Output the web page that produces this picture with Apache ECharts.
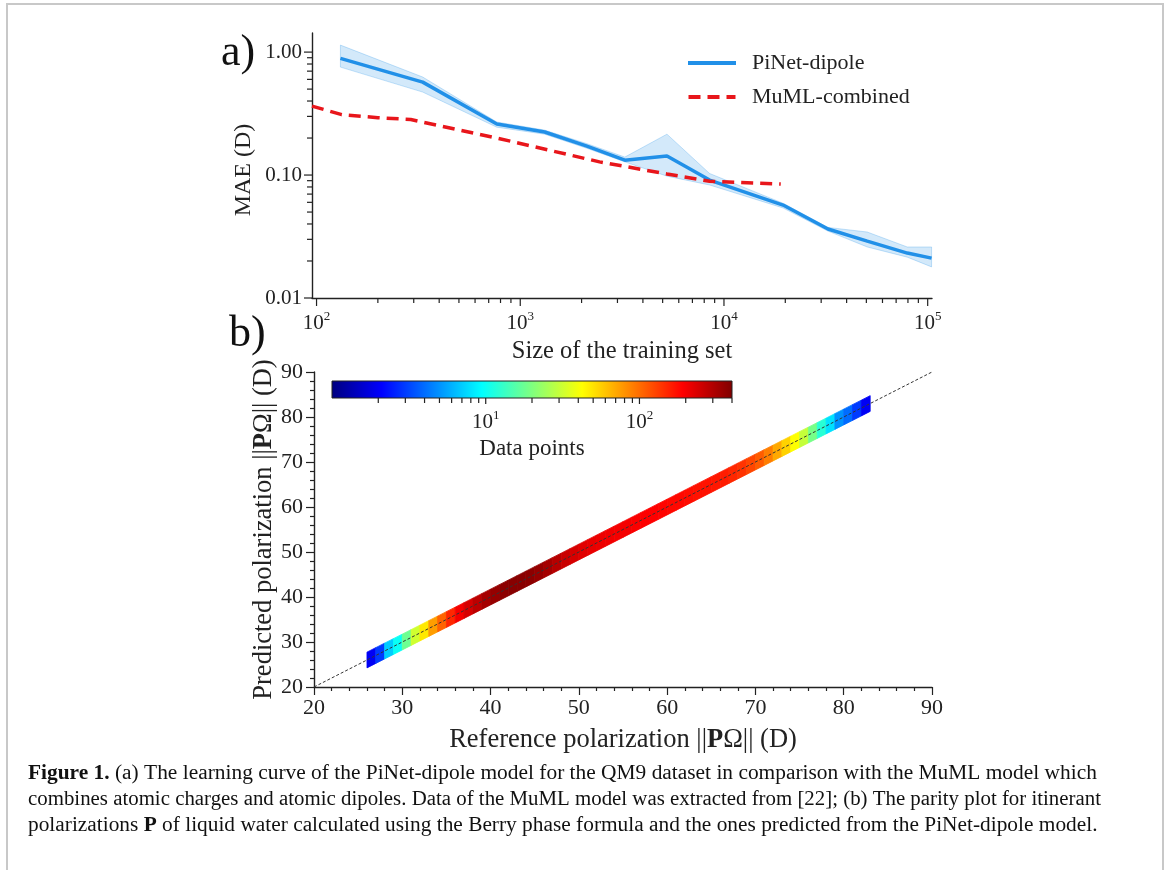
<!DOCTYPE html>
<html><head><meta charset="utf-8">
<script src="https://cdn.jsdelivr.net/npm/echarts@6/dist/echarts.min.js"></script>
<style>html,body{margin:0;padding:0;background:#fff}#c{width:1167px;height:870px}</style>
</head><body><div id="c"></div>
<script>
// ---------------- data ----------------
// (a) learning curve
const trainSizes = [131, 332, 767, 1318, 2124, 3260, 5250, 8500, 19500, 32400, 50500, 79400, 104500];
const pinetMAE   = [0.89, 0.57, 0.26, 0.224, 0.172, 0.132, 0.143, 0.091, 0.057, 0.0364, 0.029, 0.0232, 0.0211];
const pinetLow   = [0.755, 0.473, 0.245, 0.215, 0.165, 0.128, 0.098, 0.083, 0.054, 0.035, 0.026, 0.0215, 0.0179];
const pinetHigh  = [1.14, 0.627, 0.27, 0.232, 0.18, 0.14, 0.215, 0.103, 0.059, 0.0375, 0.0344, 0.026, 0.026];
const mumlSizes  = [95, 133, 200, 290, 767, 1440, 2450, 5250, 8500, 19000];
const mumlMAE    = [0.364, 0.31, 0.293, 0.283, 0.2, 0.157, 0.128, 0.102, 0.089, 0.0845];
const topXMajor = [100, 1000, 10000, 100000];
const topXLabels = ['{n|10}{s|2}', '{n|10}{s|3}', '{n|10}{s|4}', '{n|10}{s|5}'];
const topYMajor = [0.01, 0.1, 1];
const topYLabels = ['0.01', '0.10', '1.00'];
// (b) parity plot: bins along the reference polarization (D), counts per bin
const parityBinCenters = [26.5,27.5,28.5,29.5,30.5,31.5,32.5,33.5,34.5,35.5,36.5,37.5,38.5,39.5,40.5,41.5,42.5,43.5,44.5,45.5,46.5,47.5,48.5,49.5,50.5,51.5,52.5,53.5,54.5,55.5,56.5,57.5,58.5,59.5,60.5,61.5,62.5,63.5,64.5,65.5,66.5,67.5,68.5,69.5,70.5,71.5,72.5,73.5,74.5,75.5,76.5,77.5,78.5,79.5,80.5,81.5,82.5];
const parityCounts = [2,3,7,10,18,32,48,75,105,150,200,240,280,320,350,370,380,380,370,350,320,290,260,240,225,215,210,205,200,200,195,190,190,185,180,180,175,170,170,165,160,150,140,125,110,90,70,55,42,30,19,12,8,5,4,3,2];
const identityLine = [[20, 20], [90, 90]];
const cbarRange = [1, 400];
const cbarMajor = [10, 100];
const cbarLabels = ['{n|10}{s|1}', '{n|10}{s|2}'];

// ---------------- style constants ----------------
const SERIF = 'Liberation Serif';
const INK = '#222';
const BLUE = '#2190e8';
const RED = '#e8161b';
const JET = ['#00007f','#0000ff','#007fff','#00ffff','#7fff7f','#ffff00','#ff7f00','#ff0000','#7f0000'];
const BAND_HALF = 1.75;   // half-thickness of the parity band (D)
const BIN_HALF = 0.5;

function minorLog(min, max) {
  const out = [];
  for (let e = Math.floor(Math.log10(min)); e <= Math.ceil(Math.log10(max)); e++) {
    for (let k = 2; k <= 9; k++) {
      const v = k * Math.pow(10, e);
      if (v > min * 1.0001 && v <= max * 1.0001) out.push(v);
    }
  }
  return out;
}
const X0 = [95, 105000], Y0 = [0.01, 1.43];

// tick items: [x, y, axis(0=x,1=y), major, labelIdx]
const topTicks = [];
topXMajor.forEach((v, i) => topTicks.push([v, Y0[0], 0, 1, i]));
minorLog(X0[0], X0[1]).forEach(v => topTicks.push([v, Y0[0], 0, 0, -1]));
topYMajor.forEach((v, i) => topTicks.push([X0[0], v, 1, 1, i]));
minorLog(Y0[0], Y0[1]).forEach(v => topTicks.push([X0[0], v, 1, 0, -1]));
const cbarTicks = [];
cbarMajor.forEach((v, i) => cbarTicks.push([v, 0, 0, 1, i]));
minorLog(cbarRange[0], cbarRange[1]).forEach(v => cbarTicks.push([v, 0, 0, 0, -1]));

const supRich = {
  n: { fontSize: 21, fontFamily: SERIF, color: INK, verticalAlign: 'bottom' },
  s: { fontSize: 13, fontFamily: SERIF, color: INK, verticalAlign: 'bottom', padding: [0, 0, 11, 0] }
};

function tickRenderer(xLabels, yLabels, o) {
  return function (params, api) {
    const p = api.coord([api.value(0), api.value(1)]);
    const ax = api.value(2), maj = api.value(3), li = api.value(4);
    const len = maj ? o.major : o.minor;
    const ch = [];
    if (ax === 0) {
      ch.push({ type: 'line', shape: { x1: p[0], y1: p[1], x2: p[0], y2: p[1] + len }, style: { stroke: INK, lineWidth: 1.2 } });
      if (maj && li >= 0) ch.push({ type: 'text', x: p[0], y: p[1] + o.xLabelGap, style: { text: xLabels[li], align: 'center', verticalAlign: 'top', rich: supRich, font: '21px ' + SERIF, fill: INK } });
    } else {
      ch.push({ type: 'line', shape: { x1: p[0], y1: p[1], x2: p[0] - len, y2: p[1] }, style: { stroke: INK, lineWidth: 1.2 } });
      if (maj && li >= 0) ch.push({ type: 'text', x: p[0] - o.yLabelGap, y: p[1], style: { text: yLabels[li], align: 'right', verticalAlign: 'middle', font: '21px ' + SERIF, fill: INK } });
    }
    return { type: 'group', children: ch };
  };
}

const bandData = parityBinCenters.map((c, i) => [c - BIN_HALF, c + BIN_HALF, parityCounts[i], Math.log10(parityCounts[i])]);

const chart = echarts.init(document.getElementById('c'), null, { renderer: 'canvas' });
const axisLine = { show: true, lineStyle: { color: INK, width: 1.4 } };
const captionFont = '20.5px ' + SERIF;
const option = {
  backgroundColor: '#fff',
  animation: false,
  grid: [
    { left: 312, top: 33, width: 620, height: 265 },
    { left: 314, top: 372, width: 618, height: 315 },
    { left: 332, top: 381, width: 400, height: 17 }
  ],
  legend: {
    data: [
      { name: 'PiNet-dipole', icon: 'path://M0,0H48V4H0Z' },
      { name: 'MuML-combined', icon: 'path://M0,0H12V4H0Z M19,0H31V4H19Z M38,0H47V4H38Z' }
    ],
    orient: 'vertical', left: 688, top: 52, padding: 0,
    itemWidth: 48, itemHeight: 4, itemGap: 12,
    textStyle: { fontFamily: SERIF, fontSize: 22, color: INK, padding: [0, 0, 0, 11] }
  },
  visualMap: {
    show: false, type: 'continuous', seriesIndex: 4, dimension: 3,
    min: 0, max: Math.log10(cbarRange[1]), inRange: { color: JET }
  },
  xAxis: [
    { type: 'log', gridIndex: 0, min: X0[0], max: X0[1], axisLine, axisTick: { show: false }, axisLabel: { show: false }, splitLine: { show: false },
      name: 'Size of the training set', nameLocation: 'middle', nameGap: 41, nameTextStyle: { fontFamily: SERIF, fontSize: 24.5, color: INK } },
    { type: 'value', gridIndex: 1, min: 20, max: 90, interval: 10, axisLine,
      axisTick: { length: 8, lineStyle: { color: INK, width: 1.2 } },
      minorTick: { show: true, splitNumber: 5, length: 4, lineStyle: { color: INK, width: 1.2 } },
      axisLabel: { fontFamily: SERIF, fontSize: 22, color: INK, margin: 10 }, splitLine: { show: false },
      name: 'Reference polarization ||{b|P}Ω|| (D)', nameLocation: 'middle', nameGap: 40,
      nameTextStyle: { fontFamily: SERIF, fontSize: 26.5, color: INK, rich: { b: { fontFamily: SERIF, fontSize: 26.5, fontWeight: 'bold', color: INK } } } },
    { type: 'log', gridIndex: 2, min: cbarRange[0], max: cbarRange[1], axisLine: { show: false }, axisTick: { show: false }, axisLabel: { show: false }, splitLine: { show: false },
      name: 'Data points', nameLocation: 'middle', nameGap: 39, nameTextStyle: { fontFamily: SERIF, fontSize: 23, color: INK } }
  ],
  yAxis: [
    { type: 'log', gridIndex: 0, min: Y0[0], max: Y0[1], axisLine, axisTick: { show: false }, axisLabel: { show: false }, splitLine: { show: false },
      name: 'MAE (D)', nameLocation: 'middle', nameGap: 56, nameTextStyle: { fontFamily: SERIF, fontSize: 24, color: INK, padding: [0, 9, 0, 0] } },
    { type: 'value', gridIndex: 1, min: 20, max: 90, interval: 10, axisLine,
      axisTick: { length: 8, lineStyle: { color: INK, width: 1.2 } },
      minorTick: { show: true, splitNumber: 5, length: 4, lineStyle: { color: INK, width: 1.2 } },
      axisLabel: { fontFamily: SERIF, fontSize: 22, color: INK, margin: 11 }, splitLine: { show: false },
      name: 'Predicted polarization ||{b|P}Ω|| (D)', nameLocation: 'middle', nameGap: 36, nameMoveOverlap: false,
      nameTextStyle: { fontFamily: SERIF, fontSize: 26.5, color: INK, rich: { b: { fontFamily: SERIF, fontSize: 26.5, fontWeight: 'bold', color: INK } } } },
    { type: 'value', gridIndex: 2, min: 0, max: 1, show: false }
  ],
  series: [
    { // 0: PiNet uncertainty band
      type: 'custom', name: 'band', xAxisIndex: 0, yAxisIndex: 0, clip: false, z: 1,
      data: trainSizes.map((s, i) => [s, pinetMAE[i]]),
      renderItem: function (params, api) {
        if (params.dataIndex !== 0) return null;
        const pts = [];
        for (let i = 0; i < trainSizes.length; i++) pts.push(api.coord([trainSizes[i], pinetHigh[i]]));
        for (let i = trainSizes.length - 1; i >= 0; i--) pts.push(api.coord([trainSizes[i], pinetLow[i]]));
        return { type: 'polygon', shape: { points: pts }, style: { fill: 'rgba(33,144,232,0.2)', stroke: 'rgba(33,144,232,0.25)', lineWidth: 1 } };
      }
    },
    { // 1
      type: 'line', name: 'PiNet-dipole', xAxisIndex: 0, yAxisIndex: 0, symbol: 'none', z: 3,
      data: trainSizes.map((s, i) => [s, pinetMAE[i]]),
      lineStyle: { color: BLUE, width: 3.5 }, itemStyle: { color: BLUE }
    },
    { // 2
      type: 'line', name: 'MuML-combined', xAxisIndex: 0, yAxisIndex: 0, symbol: 'none', z: 4,
      data: mumlSizes.map((s, i) => [s, mumlMAE[i]]),
      lineStyle: { color: RED, width: 3.5, type: [12, 7] }, itemStyle: { color: RED }
    },
    { // 3 top ticks
      type: 'custom', name: 'topTicks', xAxisIndex: 0, yAxisIndex: 0, clip: false, silent: true,
      data: topTicks, renderItem: tickRenderer(topXLabels, topYLabels, { major: 8, minor: 5, xLabelGap: 12, yLabelGap: 10 })
    },
    { // 4 parity band
      type: 'custom', name: 'parity', xAxisIndex: 1, yAxisIndex: 1, z: 2,
      data: bandData,
      renderItem: function (params, api) {
        const a = api.value(0), b = api.value(1);
        const pts = [api.coord([a, a - BAND_HALF]), api.coord([b, b - BAND_HALF]), api.coord([b, b + BAND_HALF]), api.coord([a, a + BAND_HALF])];
        const col = api.visual('color');
        return { type: 'polygon', shape: { points: pts }, style: { fill: col, stroke: col, lineWidth: 0.8 } };
      }
    },
    { // 5 identity line
      type: 'line', name: 'identity', xAxisIndex: 1, yAxisIndex: 1, symbol: 'none', z: 5, silent: true,
      data: identityLine, lineStyle: { color: '#333', width: 1, type: [3, 2] }
    },
    { // 6 colourbar
      type: 'custom', name: 'cbar', xAxisIndex: 2, yAxisIndex: 2, clip: false, z: 6,
      data: [[cbarRange[0], 0]],
      renderItem: function (params, api) {
        const p0 = api.coord([cbarRange[0], 1]), p1 = api.coord([cbarRange[1], 0]);
        return { type: 'rect', shape: { x: p0[0], y: p0[1], width: p1[0] - p0[0], height: p1[1] - p0[1] },
          style: { fill: { type: 'linear', x: 0, y: 0, x2: 1, y2: 0, colorStops: JET.map((c, i) => ({ offset: i / (JET.length - 1), color: c })) }, stroke: INK, lineWidth: 1 } };
      }
    },
    { // 7 colourbar ticks
      type: 'custom', name: 'cbarTicks', xAxisIndex: 2, yAxisIndex: 2, clip: false, z: 6,
      data: cbarTicks, renderItem: tickRenderer(cbarLabels, [], { major: 6, minor: 5, xLabelGap: 11, yLabelGap: 0 })
    }
  ],
  graphic: [
    { type: 'polyline', shape: { points: [[7, 870], [7, 4], [1163, 4], [1163, 870]] }, style: { stroke: '#c8c8c8', lineWidth: 2, fill: null } },
    { type: 'text', x: 221, y: 53, style: { text: 'a)', font: '44px ' + SERIF, fill: '#111', verticalAlign: 'middle' } },
    { type: 'text', x: 229, y: 334, style: { text: 'b)', font: '44px ' + SERIF, fill: '#111', verticalAlign: 'middle' } },
    { type: 'text', x: 28, y: 774, scaleX: 1.044, style: { text: '{b|Figure 1.} (a) The learning curve of the PiNet-dipole model for the QM9 dataset in comparison with the MuML model which',
      font: captionFont, fill: '#111', verticalAlign: 'middle', rich: { b: { fontFamily: SERIF, fontSize: 20.5, fontWeight: 'bold', color: '#111' } } } },
    { type: 'text', x: 28, y: 800, scaleX: 1.0175, style: { text: 'combines atomic charges and atomic dipoles. Data of the MuML model was extracted from {c|[22]}; (b) The parity plot for itinerant',
      font: captionFont, fill: '#111', verticalAlign: 'middle', rich: { c: { fontFamily: SERIF, fontSize: 20.5, color: '#2a7ab8' } } } },
    { type: 'text', x: 28, y: 826, scaleX: 1.042, style: { text: 'polarizations {b|P} of liquid water calculated using the Berry phase formula and the ones predicted from the PiNet-dipole model.',
      font: captionFont, fill: '#111', verticalAlign: 'middle', rich: { b: { fontFamily: SERIF, fontSize: 20.5, fontWeight: 'bold', color: '#111' } } } }
  ]
};
chart.setOption(option);
</script>
</body></html>
